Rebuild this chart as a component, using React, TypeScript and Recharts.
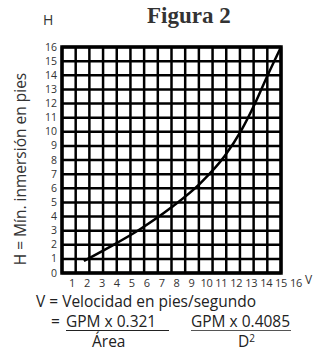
import { LineChart, Line, XAxis, YAxis, CartesianGrid, ReferenceArea } from "recharts";

// curve (V in grid units, H in feet)
const V_VALUES = [1.6, 3.5, 5.7, 8.0, 10.1, 11.9, 13.1, 14.1, 15.0, 16.0];
const H_VALUES = [0.85, 1.85, 3.1, 4.65, 6.35, 8.3, 10.1, 12.0, 13.95, 16.0];
const GRID_TICKS = [0, 1, 2, 3, 4, 5, 6, 7, 8, 9, 10, 11, 12, 13, 14, 15, 16];
const X_LABELS = [1, 2, 3, 4, 5, 6, 7, 8, 9, 10, 11, 12, 13, 14, 15, 16];

const data = V_VALUES.map((v, i) => ({ v, h: H_VALUES[i] }));

const SANS = "'Open Sans', sans-serif";

const XTick = ({ x, y, payload }: any) => {
  const k = payload.value;
  if (!X_LABELS.includes(k)) return null;
  // labels in the original drift right of the grid lines
  const dx = 1.245 * k - 4.9;
  return (
    <text x={x + dx} y={y + 6} textAnchor="middle" fontSize={11} letterSpacing={-0.3} fontFamily={SANS} fill="#333">
      {k}
    </text>
  );
};

const YTick = ({ y, payload }: any) => (
  <text x={57} y={y + 3.5} textAnchor="end" fontSize={10.5} fontFamily={SANS} fill="#333">
    {payload.value}
  </text>
);

const line = { position: "absolute" as const, fontSize: 15.5, lineHeight: "17px", whiteSpace: "nowrap" as const, color: "#222" };

export default function App() {
  return (
    <div style={{ position: "absolute", left: 0, top: 0, width: 320, height: 351, background: "#fff", fontFamily: SANS, color: "#222", overflow: "hidden" }}>
      <LineChart width={320} height={351} data={data} margin={{ top: 47, right: 39, bottom: 48, left: 0 }}>
        <CartesianGrid stroke="#000" strokeWidth={2.5} horizontalValues={GRID_TICKS} verticalValues={GRID_TICKS} />
        <XAxis
          type="number"
          dataKey="v"
          domain={[0, 16]}
          ticks={GRID_TICKS}
          interval={0}
          height={30}
          axisLine={false}
          tickLine={false}
          tick={<XTick />}
        />
        <YAxis
          type="number"
          dataKey="h"
          domain={[0, 16]}
          ticks={GRID_TICKS}
          interval={0}
          width={62}
          axisLine={false}
          tickLine={false}
          tick={<YTick />}
        />
        <ReferenceArea x1={0} x2={16} y1={0} y2={16} fill="none" stroke="#000" strokeWidth={3.5} ifOverflow="visible" />
        <Line type="monotone" dataKey="h" stroke="#000" strokeWidth={2.5} dot={false} isAnimationActive={false} />
      </LineChart>

      <div style={{ position: "absolute", left: 147, top: 3, fontFamily: "'Liberation Serif', serif", fontWeight: "bold", fontSize: 23, color: "#333" }}>
        Figura 2
      </div>
      <div style={{ position: "absolute", left: 43, top: 10, fontSize: 14, color: "#333" }}>H</div>
      <div style={{ position: "absolute", left: 305, top: 273, fontSize: 12, lineHeight: "14px", color: "#333" }}>V</div>

      <div
        style={{
          position: "absolute",
          left: 20,
          top: 169,
          transform: "translate(-50%, -50%) rotate(-90deg)",
          whiteSpace: "nowrap",
          fontSize: 15.5,
          lineHeight: "18px",
          color: "#333",
        }}
      >
        H = Mín. inmersión en pies
      </div>

      <div style={{ ...line, left: 36, top: 293 }}>V = Velocidad en pies/segundo</div>
      <div style={{ ...line, left: 51, top: 313 }}>=</div>
      <div style={{ ...line, left: 66, top: 313, width: 103, borderBottom: "1.5px solid #222" }}>GPM x 0.321</div>
      <div style={{ ...line, left: 191, top: 313, width: 100, borderBottom: "1.5px solid #555" }}>GPM x 0.4085</div>
      <div style={{ ...line, left: 92, top: 333 }}>Área</div>
      <div style={{ ...line, left: 238, top: 333 }}>
        D<span style={{ fontSize: 10, verticalAlign: "5px", lineHeight: "10px" }}>2</span>
      </div>
    </div>
  );
}
